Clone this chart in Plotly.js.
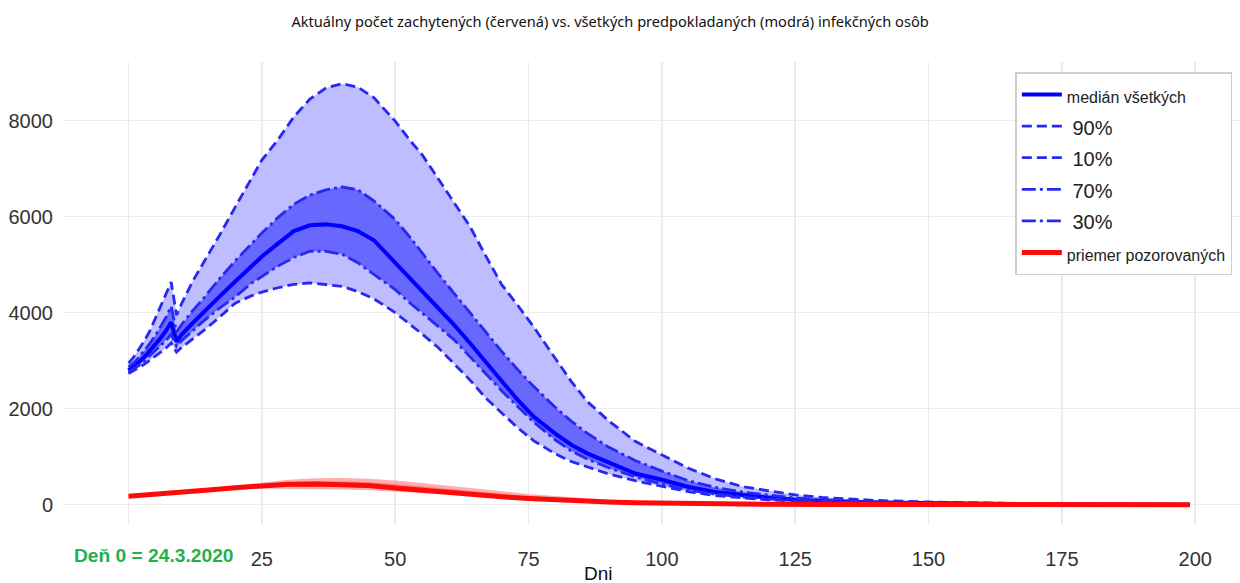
<!DOCTYPE html>
<html>
<head>
<meta charset="utf-8">
<script src="https://cdn.plot.ly/plotly-3.0.1.min.js"></script>
<style>html,body{margin:0;padding:0;background:#fff;}#chart{width:1240px;height:583px;}</style>
</head>
<body>
<div id="chart"></div>
<script>
// ---- data ----
const days = [0,1,2,3,4,5,6,7,8,9,10,12,14,17,20,23,25,28,31,34,37,40,43,46,50,53,55,58,61,64,67,70,73,76,80,83,86,90,95,100,105,110,115,120,125,130,140,150,160,170,180,190,199];
const p90 = [2950,3080,3250,3420,3620,3880,4150,4400,4640,3950,4200,4650,5020,5600,6200,6780,7180,7600,8080,8450,8680,8770,8700,8480,7990,7560,7300,6800,6300,5800,5180,4580,4150,3700,3050,2570,2150,1750,1320,1040,760,540,380,290,206,150,90,56,33,18,9,4,2];
const median = [2800,2880,2980,3080,3200,3330,3470,3620,3800,3400,3550,3780,3990,4330,4650,4960,5170,5440,5700,5820,5840,5800,5700,5510,5040,4700,4470,4110,3750,3370,2960,2570,2180,1830,1480,1250,1070,880,650,520,370,265,195,145,104,75,45,28,15,8,4,2,1];
const p70 = [2870,2960,3080,3210,3360,3520,3700,3900,4130,3600,3760,4040,4290,4700,5080,5430,5660,5980,6260,6450,6560,6620,6560,6330,5940,5540,5250,4820,4410,4000,3590,3190,2810,2460,2030,1740,1490,1200,920,700,500,360,265,195,139,105,60,35,20,10,5,2,1];
const p30 = [2760,2830,2910,3000,3100,3200,3310,3420,3550,3300,3420,3620,3820,4090,4330,4610,4760,4970,5150,5280,5280,5220,5040,4800,4480,4180,4000,3720,3440,3080,2720,2370,2040,1720,1350,1120,950,770,580,430,305,220,160,120,85,62,36,22,12,6,3,1,0];
const p10 = [2730,2790,2860,2930,3010,3090,3170,3260,3370,3180,3280,3450,3620,3900,4200,4350,4430,4520,4590,4620,4590,4550,4440,4290,4000,3740,3560,3280,2950,2600,2220,1900,1600,1330,1060,900,790,640,500,380,270,190,140,100,75,56,33,20,11,6,3,1,0];

const obsDays = [0,5,10,15,20,25,30,35,40,45,50,55,60,65,70,75,80,85,90,95,100,110,120,130,140,150,160,170,180,190,199];
const obsMean = [175,210,255,305,355,396,425,432,425,400,350,300,250,205,165,130,100,75,55,40,30,17,10,6,4,3,2,1,1,0,0];
const obsHi90 = [180,225,275,335,400,460,520,550,556,540,505,450,390,330,275,225,180,140,105,80,60,35,20,12,8,5,3,2,1,1,0];
const obsLo10 = [168,200,235,272,310,340,340,330,318,300,278,245,212,175,140,110,82,60,44,32,23,13,7,4,3,2,1,1,0,0,0];
const obsHi70 = [178,218,265,320,378,430,470,490,490,470,430,380,320,270,220,180,140,108,80,60,45,25,15,9,6,4,2,1,1,0,0];
const obsLo30 = [172,205,245,290,335,368,378,378,370,350,315,275,235,192,155,122,92,68,50,36,27,15,9,5,3,2,1,1,0,0,0];

const xTicks = [0,25,50,75,100,125,150,175,200];
const xTickText = ['','25','50','75','100','125','150','175','200'];
const yTicks = [0,2000,4000,6000,8000];

const titleText = 'Aktuálny počet zachytených (červená) vs. všetkých predpokladaných (modrá) infekčných osôb';
const xLabel = 'Dni';
const dayZeroLabel = 'Deň 0 = 24.3.2020';
const legendNames = ['medián všetkých','90%','10%','70%','30%','priemer pozorovaných'];

// ---- helpers ----
function band(x, hi, lo, color) {
  return {
    x: x.concat(x.slice().reverse()),
    y: hi.concat(lo.slice().reverse()),
    type: 'scatter', mode: 'lines', fill: 'toself', fillcolor: color,
    line: {width: 0, color: color}, hoverinfo: 'skip', showlegend: false
  };
}
const small = t => '<span style="font-size:16px">' + t + '</span>';
const big = t => '<span style="font-size:20px"> ' + t + '</span>';
const dashBlue = 'rgb(40,40,245)';

const traces = [
  band(days, p90, p10, 'rgb(189,189,255)'),
  band(days, p70, p30, 'rgb(104,104,255)'),
  band(obsDays, obsHi90, obsLo10, 'rgba(255,120,120,0.6)'),
  band(obsDays, obsHi70, obsLo30, 'rgba(255,80,80,0.5)'),
  {x: days, y: median, type: 'scatter', mode: 'lines', name: small(legendNames[0]),
   line: {color: 'rgb(0,0,255)', width: 4}},
  {x: days, y: p90, type: 'scatter', mode: 'lines', name: big(legendNames[1]),
   line: {color: dashBlue, width: 2.8, dash: '10px,5px'}},
  {x: days, y: p10, type: 'scatter', mode: 'lines', name: big(legendNames[2]),
   line: {color: dashBlue, width: 2.8, dash: '10px,5px'}},
  {x: days, y: p70, type: 'scatter', mode: 'lines', name: big(legendNames[3]),
   line: {color: dashBlue, width: 2.8, dash: '14px,4px,3px,4px'}},
  {x: days, y: p30, type: 'scatter', mode: 'lines', name: big(legendNames[4]),
   line: {color: dashBlue, width: 2.8, dash: '14px,4px,3px,4px'}},
  {x: obsDays, y: obsMean, type: 'scatter', mode: 'lines', name: small(legendNames[5]),
   line: {color: 'rgb(255,10,10)', width: 5}}
];

const tickFont = {family: 'Liberation Sans, Arial, sans-serif', size: 20, color: '#333'};

const layout = {
  width: 1240, height: 583,
  margin: {l: 64, r: 0, t: 62, b: 58},
  paper_bgcolor: '#fff', plot_bgcolor: '#fff',
  title: {text: titleText, x: 0.492, xref: 'container', xanchor: 'center',
          y: 0.962, yref: 'container', yanchor: 'middle',
          font: {family: 'Noto Sans, DejaVu Sans, sans-serif', size: 14.6, color: '#111'}},
  xaxis: {range: [-12.1, 208.4], tickvals: xTicks, ticktext: xTickText,
          showgrid: true, gridcolor: '#ebebeb', gridwidth: 1.5, zeroline: false,
          showline: false, ticks: 'outside', ticklen: 16, tickcolor: 'rgba(0,0,0,0)',
          tickfont: tickFont, fixedrange: true},
  yaxis: {range: [-423, 9223], tickvals: yTicks,
          showgrid: true, gridcolor: '#ebebeb', gridwidth: 1.5, zeroline: false,
          showline: false, ticks: 'outside', ticklen: 6, tickcolor: 'rgba(0,0,0,0)',
          tickfont: tickFont, fixedrange: true},
  legend: {x: 0.9935, xanchor: 'right', y: 0.978, yanchor: 'top',
           bgcolor: '#fff', bordercolor: '#cfcfcf', borderwidth: 1.5,
           itemwidth: 40, tracegroupgap: 0,
           font: {family: 'Liberation Sans, Arial, sans-serif', size: 22, color: '#222'}},
  annotations: [
    {text: '<b>' + dayZeroLabel + '</b>', xref: 'paper', yref: 'paper',
     x: 0.0765, y: -0.0648, xanchor: 'center', yanchor: 'middle', showarrow: false,
     font: {family: 'Liberation Sans, Arial, sans-serif', size: 19.2, color: 'rgb(34,177,76)'}},
    {text: xLabel, xref: 'paper', yref: 'paper',
     x: (598 - 64) / 1176, y: (525 - 573) / 463, xanchor: 'center', yanchor: 'middle', showarrow: false,
     font: {family: 'Liberation Sans, Arial, sans-serif', size: 19, color: '#111'}}
  ],
  showlegend: true
};

Plotly.newPlot('chart', traces, layout, {displayModeBar: false, staticPlot: true});
</script>
</body>
</html>
